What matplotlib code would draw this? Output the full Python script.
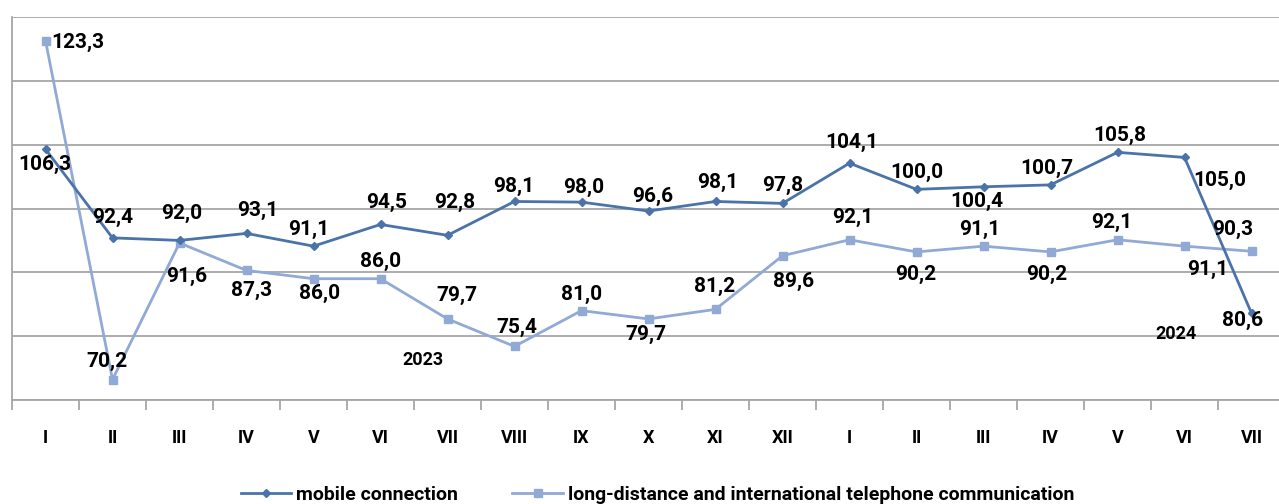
import matplotlib.pyplot as plt

plt.rcParams['font.family'] = ['Roboto', 'DejaVu Sans']

months = ['I', 'II', 'III', 'IV', 'V', 'VI', 'VII', 'VIII', 'IX', 'X', 'XI', 'XII',
          'I', 'II', 'III', 'IV', 'V', 'VI', 'VII']
mobile = [106.3, 92.4, 92.0, 93.1, 91.1, 94.5, 92.8, 98.1, 98.0, 96.6, 98.1, 97.8,
          104.1, 100.0, 100.4, 100.7, 105.8, 105.0, 80.6]
longdist = [123.3, 70.2, 91.6, 87.3, 86.0, 86.0, 79.7, 75.4, 81.0, 79.7, 81.2, 89.6,
            92.1, 90.2, 91.1, 90.2, 92.1, 91.1, 90.3]

# label offsets in pixels (dx, dy), dy positive = up
off_mobile = [(-1, -15), (0, 20), (2, 27), (11, 23), (-5, 17), (6, 22), (7, 33), (-1, 15),
              (2, 15), (4, 15), (2, 19), (0, 18), (2, 21), (0, 17), (-7, -15), (-4, 16),
              (2, 17), (35, -23), (-9, -7)]
off_long = [(32, -2), (-6, 18), (7, -33), (5, -20), (6, -15), (0, 17), (9, 23), (2, 19),
            (0, 16), (-3, -16), (-1, 23), (11, -26), (3, 22), (-1, -23), (-4, 17), (-4, -23),
            (-6, 17), (23, -23), (-19, 22)]

c_mob = '#4a73aa'
c_long = '#91aad5'

fig = plt.figure(figsize=(12.79, 5.04), dpi=100)
ax = fig.add_axes([12 / 1279, 1 - 400 / 504, 1273 / 1279, 383 / 504])

x = list(range(len(months)))
ax.plot(x, longdist, color=c_long, lw=2, marker='s', ms=6, zorder=3,
        label='long-distance and international telephone communication')
ax.plot(x, mobile, color=c_mob, lw=2, marker='D', ms=4, zorder=4,
        label='mobile connection')

for i in x:
    dx, dy = off_mobile[i]
    ax.annotate(f'{mobile[i]:.1f}'.replace('.', ','), (i, mobile[i]), xytext=(dx, dy),
                textcoords='offset pixels', ha='center', va='center',
                fontsize=15, fontweight='bold', color='black', zorder=5)
    dx, dy = off_long[i]
    ax.annotate(f'{longdist[i]:.1f}'.replace('.', ','), (i, longdist[i]), xytext=(dx, dy),
                textcoords='offset pixels', ha='center', va='center',
                fontsize=15, fontweight='bold', color='black', zorder=5)

ax.text(5.64, 73.3, '2023', ha='center', va='center', fontsize=13, fontweight='bold')
ax.text(16.88, 77.3, '2024', ha='center', va='center', fontsize=13, fontweight='bold')

ax.set_xlim(-0.5, 18.5)
ax.set_ylim(67, 127)
ax.set_yticks([67, 77, 87, 97, 107, 117, 127])
ax.set_yticklabels([])
ax.tick_params(axis='y', length=0)
ax.grid(axis='y', color='#a6a6a6', lw=1.3)
ax.set_axisbelow(True)

ax.set_xticks(x)
ax.set_xticklabels(months, fontsize=13, fontweight='bold')
ax.tick_params(axis='x', length=0, pad=21)
ax.set_xticks([i - 0.5 for i in range(20)], minor=True)
ax.tick_params(axis='x', which='minor', length=7, width=1.3, color='#a6a6a6')

for s in ['top', 'right']:
    ax.spines[s].set_visible(False)
for s in ['left', 'bottom']:
    ax.spines[s].set_color('#a6a6a6')
    ax.spines[s].set_linewidth(1.3)

h, l = ax.get_legend_handles_labels()
fig.legend(h[::-1], l[::-1], loc='center', bbox_to_anchor=(0.514, 0.018), ncol=2,
           frameon=False, prop={'weight': 'bold', 'size': 14}, columnspacing=2.8,
           handlelength=2.6, handletextpad=0.25)

fig.savefig('out.png', dpi=100)
